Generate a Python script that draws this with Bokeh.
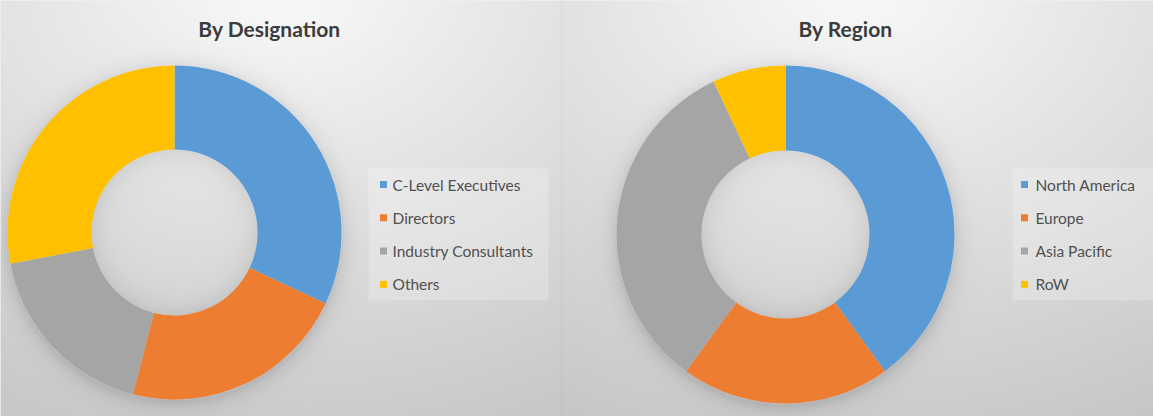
import numpy as np
from bokeh.plotting import figure
from bokeh.models import Range1d, ColumnDataSource
from bokeh.core.properties import value
from bokeh.embed import file_html
from bokeh.resources import INLINE

# ---------------- data ----------------
designation_labels = ["C-Level Executives", "Directors", "Industry Consultants", "Others"]
designation_values = [32, 22, 18, 28]
region_labels = ["North America", "Europe", "Asia Pacific", "RoW"]
region_values = [40, 20, 33, 7]
slice_colors = ["#5B9BD5", "#ED7D31", "#A5A5A5", "#FFC000"]
titles = ["By Designation", "By Region"]

W, H = 1153, 416

def sy(v):
    """screen y (from top) -> data y (from bottom)"""
    return H - v

# layout (screen pixels)
donuts = [
    dict(cx=174, cy=232, ro=167, ri=83, panel_cx=280, title_x=269,
         box=(368, 548, 168, 300), mark_x=383, text_x=392),
    dict(cx=785, cy=234, ro=169, ri=84, panel_cx=857, title_x=845,
         box=(1012, 1153, 168, 300), mark_x=1024, text_x=1035),
]
divider_x = 561

# ---------------- background gradient image (screen coords) ----------------
yy, xx = np.mgrid[0:H, 0:W]
sx = xx + 0.5
scr_y = H - yy - 0.5          # image row 0 is drawn at the bottom
shade = np.zeros((H, W))
for i, d in enumerate(donuts):
    mask = (sx < divider_x) if i == 0 else (sx >= divider_x)
    dist = np.sqrt(((sx - d["panel_cx"]) / 520.0) ** 2 + ((scr_y + 20) / 400.0) ** 2)
    base = 250 - 42 * dist
    shade = np.where(mask, base, shade)
for d in donuts:
    r2 = np.sqrt((sx - d["cx"]) ** 2 + (scr_y - d["cy"]) ** 2)
    r = np.sqrt((sx - d["cx"]) ** 2 + (scr_y - (d["cy"] + 3)) ** 2)
    outer = np.where(r2 > d["ro"], 24 * np.exp(-np.maximum(r - d["ro"], 0) / 8.0), 0)
    inner = np.where(r2 < d["ri"], 18 * np.exp(-(d["ri"] - r2) / 12.0), 0)
    shade = shade - outer - inner
# divider line
shade = np.where(np.abs(sx - divider_x) < 1.0, shade - 4, shade)
g = np.clip(shade, 0, 255).astype(np.uint8)
img = np.empty((H, W), dtype=np.uint32)
view = img.view(dtype=np.uint8).reshape((H, W, 4))
view[..., 0] = g
view[..., 1] = g
view[..., 2] = g
view[..., 3] = 255

p = figure(width=W, height=H, x_range=Range1d(0, W), y_range=Range1d(0, H),
           output_backend="svg", toolbar_location=None, min_border=0,
           background_fill_color="#e6e6e6", border_fill_color="#e6e6e6")
p.axis.visible = False
p.grid.visible = False
p.outline_line_color = None

p.image_rgba(image=[img], x=0, y=0, dw=W, dh=H)

for d, labels, vals, title in zip(donuts, [designation_labels, region_labels],
                                  [designation_values, region_values], titles):
    total = float(sum(vals))
    cum = np.cumsum([0] + list(vals)) / total
    start = [np.pi / 2 - 2 * np.pi * c for c in cum[:-1]]
    end = [np.pi / 2 - 2 * np.pi * c for c in cum[1:]]
    src = ColumnDataSource(dict(start=start, end=end, color=slice_colors,
                                label=labels, value=vals))
    p.annular_wedge(x=d["cx"], y=sy(d["cy"]), inner_radius=d["ri"], outer_radius=d["ro"],
                    start_angle="start", end_angle="end", direction="clock",
                    fill_color="color", line_color=None, source=src)

    # title
    p.text(x=[d["title_x"]], y=[sy(28)], text=[title], text_font=value("Lato"),
           text_font_size=value("21px"), text_font_style="bold", text_color="#3c3c3c",
           text_align="center", text_baseline="middle")

    # legend box
    l, r_, t, b = d["box"]
    p.quad(left=l, right=r_, top=sy(t), bottom=sy(b), fill_color="#ffffff",
           fill_alpha=0.22, line_color=None)
    rows = [sy(184 + 33.3 * i) for i in range(len(labels))]
    p.rect(x=[d["mark_x"]] * len(labels), y=rows, width=7, height=7,
           fill_color=slice_colors, line_color=None)
    p.text(x=[d["text_x"]] * len(labels), y=rows, text=labels, text_font=value("Lato"),
           text_font_size=value("15.5px"), text_color="#505050",
           text_align="left", text_baseline="middle")

open("out.html", "w").write(file_html(p, INLINE))
